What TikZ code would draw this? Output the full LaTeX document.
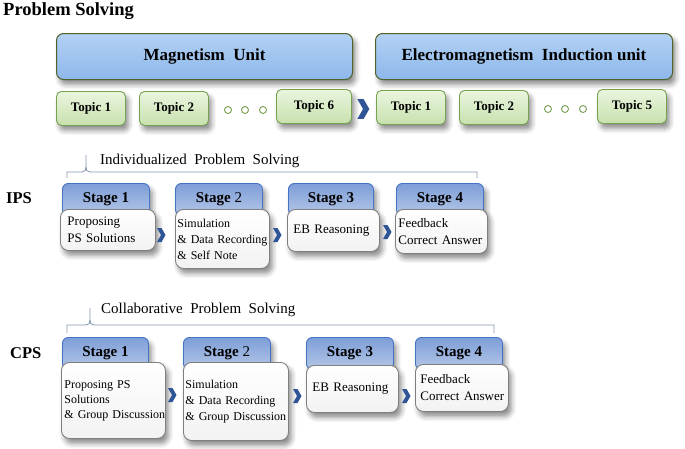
\documentclass[tikz,border=0pt]{standalone}
\usepackage{fontspec}
\setmainfont{Liberation Serif}
\usetikzlibrary{shadows.blur}
\definecolor{unitdraw}{HTML}{4F6228}
\definecolor{unittop}{HTML}{B3D1F4}
\definecolor{unitbot}{HTML}{8DB8EA}
\definecolor{topicdraw}{HTML}{77A051}
\definecolor{topictop}{HTML}{EAF5DE}
\definecolor{topicbot}{HTML}{C8E1AE}
\definecolor{headdraw}{HTML}{4472C4}
\definecolor{headtop}{HTML}{7E9ED8}
\definecolor{headbot}{HTML}{B4C7E7}
\definecolor{bodydraw}{HTML}{7F7F7F}
\definecolor{chevcol}{HTML}{2F5597}
\definecolor{bracecol}{HTML}{8497B0}
\newcommand\bline[1]{\mbox{#1}}
\tikzset{
  softshadow/.style={blur shadow={shadow xshift=3pt, shadow yshift=-5pt, shadow blur radius=5pt, shadow opacity=45}},
  unitbox/.style={draw=unitdraw, line width=1pt, rounded corners=7pt, top color=unittop, bottom color=unitbot,
    minimum height=46pt, inner sep=0pt, anchor=north west, font=\bfseries\fontsize{17}{20}\selectfont, softshadow},
  topicbox/.style={draw=topicdraw, line width=0.9pt, rounded corners=5pt, top color=topictop, bottom color=topicbot,
    minimum height=34pt, inner sep=0pt, anchor=north west, font=\bfseries\fontsize{13}{15}\selectfont, softshadow},
  dotnode/.style={circle, draw=topicdraw, line width=0.9pt, fill=white, minimum size=7pt, inner sep=0pt},
  header/.style={draw=headdraw, line width=0.9pt, rounded corners=6pt, top color=headtop, bottom color=headbot,
    minimum width=87pt, minimum height=32pt, inner sep=0pt, anchor=north west, font=\bfseries\fontsize{15}{18}\selectfont, softshadow},
  body/.style={draw=bodydraw, line width=0.9pt, rounded corners=8pt, top color=white, bottom color=black!5,
    inner ysep=0pt, anchor=north west, align=left, softshadow},
  lbl/.style={anchor=base west, inner sep=0pt},
  bracket/.style={draw=bracecol, line width=0.8pt},
  chevron/.pic={\fill[chevcol] (-4,-7) -- (0.5,-7) -- (4.5,0) -- (0.5,7) -- (-4,7) -- (0,0) -- cycle;}
}
\begin{document}
\begin{tikzpicture}[x=1pt,y=-1pt]
\useasboundingbox (0,0) rectangle (685,448);

\node[lbl, font=\bfseries\fontsize{18.5}{22}\selectfont] (title) at (3,15) {Problem Solving};

% units
\node[unitbox, minimum width=296pt] (mag) at (56,33) {Magnetism\ \ Unit};
\node[unitbox, minimum width=297pt] (em) at (375,33) {Electromagnetism\ \ Induction\ unit};

% topics
\node[topicbox, minimum width=69pt] (mt1) at (56,91) {Topic 1};
\node[topicbox, minimum width=69pt] (mt2) at (139,91) {Topic 2};
\node[dotnode] (md1) at (228,110) {};
\node[dotnode] (md2) at (245,110) {};
\node[dotnode] (md3) at (263,110) {};
\node[topicbox, minimum width=75pt] (mt6) at (276,89) {Topic 6};
\pic[scale=1.4] at (363,109) {chevron};
\node[topicbox, minimum width=69pt] (et1) at (376,90) {Topic 1};
\node[topicbox, minimum width=69pt] (et2) at (459,90) {Topic 2};
\node[dotnode] (ed1) at (548,109) {};
\node[dotnode] (ed2) at (565,109) {};
\node[dotnode] (ed3) at (583,109) {};
\node[topicbox, minimum width=69pt] (et5) at (597,89) {Topic 5};

% IPS
\node[lbl, font=\fontsize{15}{18}\selectfont] (ipsname) at (100,164) {Individualized\ \ Problem\ \ Solving};
\draw[bracket] (67,178) -- (67,172) -- (82,172) .. controls (85,172) and (86,170) .. (86,167) -- (86,155);
\draw[bracket] (86,167) .. controls (86,170) and (87,172) .. (90,172) -- (477,172) -- (477,178);
\node[lbl, font=\bfseries\fontsize{16.5}{20}\selectfont] (ips) at (6,203) {IPS};

\node[header] (ih1) at (62,183) {Stage 1};
\node[header] (ih2) at (175,183) {Stage \mdseries 2};
\node[header, minimum width=85pt] (ih3) at (288,183) {Stage 3};
\node[header] (ih4) at (396,183) {Stage 4};

\node[body, inner xsep=7pt, minimum width=95pt, minimum height=41pt, text width=81pt, font=\fontsize{13}{17}\selectfont] (ib1) at (60,209) {\bline{Proposing}\\\bline{PS Solutions}};
\node[body, inner xsep=2pt, minimum width=94pt, minimum height=59pt, text width=90pt, font=\fontsize{12}{16}\selectfont] (ib2) at (175,209) {\bline{Simulation}\\\bline{\& Data Recording}\\\bline{\& Self Note}};
\node[body, inner xsep=6pt, minimum width=92pt, minimum height=42pt, text width=80pt, font=\fontsize{13}{17}\selectfont] (ib3) at (287,209) {\bline{EB Reasoning}};
\node[body, inner xsep=3pt, minimum width=92pt, minimum height=44pt, text width=86pt, font=\fontsize{13}{17}\selectfont] (ib4) at (395,209) {\bline{Feedback}\\\bline{Correct Answer}};

\pic at (161,235) {chevron};
\pic at (277,235) {chevron};
\pic at (387,232) {chevron};

% CPS
\node[lbl, font=\fontsize{15}{18}\selectfont] (cpsname) at (101,313) {Collaborative\ \ Problem\ \ Solving};
\draw[bracket] (67,333) -- (67,325) -- (86,325) .. controls (89,325) and (90,323) .. (90,320) -- (90,308);
\draw[bracket] (90,320) .. controls (90,323) and (91,325) .. (94,325) -- (494,325) -- (494,333);
\node[lbl, font=\bfseries\fontsize{16.5}{20}\selectfont] (cps) at (10,358) {CPS};

\node[header, minimum width=86pt] (ch1) at (62,337) {Stage 1};
\node[header] (ch2) at (183,337) {Stage \mdseries 2};
\node[header] (ch3) at (306,337) {Stage 3};
\node[header] (ch4) at (415,337) {Stage 4};

\node[body, inner xsep=3pt, minimum width=104pt, minimum height=76pt, text width=98pt, font=\fontsize{12}{15}\selectfont] (cb1) at (61,362) {\bline{Proposing PS}\\\bline{Solutions}\\\bline{\& Group Discussion}};
\node[body, inner xsep=2pt, minimum width=105pt, minimum height=78pt, text width=101pt, font=\fontsize{12}{16}\selectfont] (cb2) at (183,362) {\bline{Simulation}\\\bline{\& Data Recording}\\\bline{\& Group Discussion}};
\node[body, inner xsep=6pt, minimum width=92pt, minimum height=47pt, text width=80pt, font=\fontsize{13}{17}\selectfont] (cb3) at (306,365) {\bline{EB Reasoning}};
\node[body, inner xsep=5pt, minimum width=93pt, minimum height=47pt, text width=83pt, font=\fontsize{13}{17}\selectfont] (cb4) at (415,364) {\bline{Feedback}\\\bline{Correct Answer}};

\pic at (172,395) {chevron};
\pic at (297,396) {chevron};
\pic at (406,396) {chevron};
\end{tikzpicture}
\end{document}
